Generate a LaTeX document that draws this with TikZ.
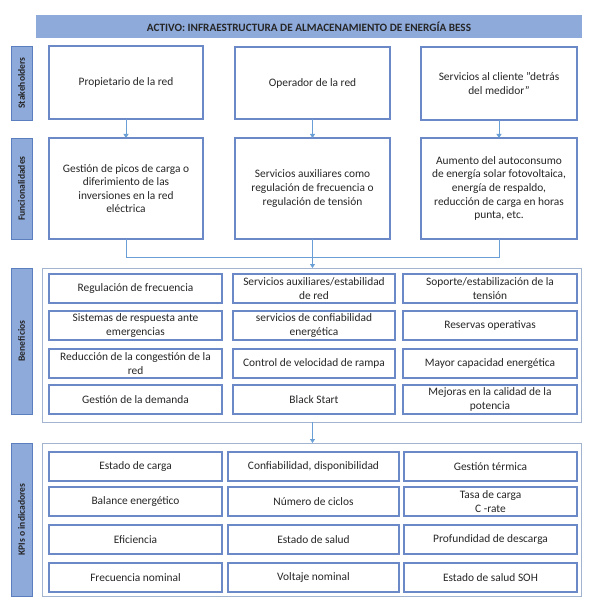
\documentclass[tikz,border=0pt]{standalone}
\usepackage{fontspec}
\setmainfont{Carlito}
\usetikzlibrary{arrows.meta}
\definecolor{barfill}{HTML}{8EAADB}
\definecolor{labdraw}{HTML}{5B7EBE}
\definecolor{boxdraw}{HTML}{6A89C6}
\definecolor{outerdraw}{HTML}{A3B4D0}
\definecolor{conn}{HTML}{6A9FD6}
\definecolor{txt}{HTML}{262626}
\newcommand\mybox[7]{%
  \pgfmathsetmacro\bcx{(#3+#5)/2}%
  \pgfmathsetmacro\bcy{(#4+#6)/2}%
  \pgfmathsetmacro\bw{#5-#3}%
  \pgfmathsetmacro\bh{#6-#4}%
  \node[#1,minimum width=\bw pt,minimum height=\bh pt] (#2) at (\bcx,\bcy) {#7};}
\begin{document}
\begin{tikzpicture}[x=1pt,y=-1pt,
  every node/.style={inner sep=0pt,outer sep=0pt,text=txt,align=center,font=\fontsize{11.4}{13.6}\selectfont},
  titlebar/.style={rectangle,fill=barfill,font=\bfseries\fontsize{11.2}{13}\selectfont},
  sidelab/.style={rectangle,fill=barfill,draw=labdraw,line width=0.8pt},
  sidetext/.style={rotate=90,font=\bfseries\fontsize{9.6}{11}\selectfont},
  mainbox/.style={rectangle,fill=white,draw=boxdraw,line width=1.1pt},
  outerbox/.style={rectangle,fill=white,draw=outerdraw,line width=1pt},
  cellbox/.style={rectangle,fill=white,draw=boxdraw,line width=1.1pt},
  link/.style={draw=conn,line width=0.8pt},
  arrowlink/.style={link,-{Triangle[length=4pt,width=5pt]}}
]
\useasboundingbox (0,0) rectangle (589,601);
\fill[white] (0,0) rectangle (589,601);

% title
\mybox{titlebar}{title}{36}{15}{582}{38}{ACTIVO: INFRAESTRUCTURA DE ALMACENAMIENTO DE ENERGÍA BESS}

% side labels
\mybox{sidelab}{lab1}{11}{46}{32}{120}{}
\mybox{sidelab}{lab2}{11}{138}{32}{239}{}
\mybox{sidelab}{lab3}{11}{268}{32}{414}{}
\mybox{sidelab}{lab4}{11}{443}{32}{596}{}
\node[sidetext] (lab1t) at (lab1.center) {Stakeholders};
\node[sidetext] (lab2t) at (lab2.center) {Funcionalidades};
\node[sidetext] (lab3t) at (lab3.center) {Beneficios};
\node[sidetext] (lab4t) at (lab4.center) {KPIs o indicadores};

% stakeholders
\mybox{mainbox}{s1}{49}{46}{203}{119}{Propietario de la red}
\mybox{mainbox}{s2}{235}{47}{390}{119}{Operador de la red}
\mybox{mainbox}{s3}{421}{47}{577}{120}{Servicios al cliente "detrás\\del medidor"}

% functionalities
\mybox{mainbox}{f1}{49}{138}{203}{239}{Gestión de picos de carga o\\diferimiento de las\\inversiones en la red\\eléctrica}
\mybox{mainbox}{f2}{235}{138}{390}{239}{Servicios auxiliares como\\regulación de frecuencia o\\regulación de tensión}
\mybox{mainbox}{f3}{421}{138}{577}{239}{Aumento del autoconsumo\\de energía solar fotovoltaica,\\energía de respaldo,\\reducción de carga en horas\\punta, etc.}

% benefits
\mybox{outerbox}{ben}{42}{268}{581}{422}{}
\mybox{cellbox}{b11}{49}{274}{222}{303}{Regulación de frecuencia}
\mybox{cellbox}{b12}{233}{274}{395}{303}{Servicios auxiliares/estabilidad\\de red}
\mybox{cellbox}{b13}{403}{274}{577}{303}{Soporte/estabilización de la\\tensión}
\mybox{cellbox}{b21}{49}{311}{222}{340}{Sistemas de respuesta ante\\emergencias}
\mybox{cellbox}{b22}{233}{311}{395}{340}{servicios de confiabilidad\\energética}
\mybox{cellbox}{b23}{403}{311}{577}{340}{Reservas operativas}
\mybox{cellbox}{b31}{49}{349}{222}{378}{Reducción de la congestión de la\\red}
\mybox{cellbox}{b32}{233}{349}{395}{378}{Control de velocidad de rampa}
\mybox{cellbox}{b33}{403}{349}{577}{378}{Mayor capacidad energética}
\mybox{cellbox}{b41}{49}{385}{222}{414}{Gestión de la demanda}
\mybox{cellbox}{b42}{233}{385}{395}{414}{Black Start}
\mybox{cellbox}{b43}{403}{385}{577}{414}{Mejoras en la calidad de la\\potencia}

% KPIs
\mybox{outerbox}{kpi}{42}{443}{581}{596}{}
\mybox{cellbox}{k11}{49}{452}{222}{481}{Estado de carga}
\mybox{cellbox}{k12}{228}{452}{399}{481}{Confiabilidad, disponibilidad}
\mybox{cellbox}{k13}{404}{452}{577}{481}{Gestión térmica}
\mybox{cellbox}{k21}{49}{487}{222}{516}{Balance energético}
\mybox{cellbox}{k22}{228}{487}{399}{516}{Número de ciclos}
\mybox{cellbox}{k23}{404}{487}{577}{516}{Tasa de carga\\C -rate}
\mybox{cellbox}{k31}{49}{525}{222}{554}{Eficiencia}
\mybox{cellbox}{k32}{228}{525}{399}{554}{Estado de salud}
\mybox{cellbox}{k33}{404}{525}{577}{554}{Profundidad de descarga}
\mybox{cellbox}{k41}{49}{563}{222}{592}{Frecuencia nominal}
\mybox{cellbox}{k42}{228}{563}{399}{592}{Voltaje nominal}
\mybox{cellbox}{k43}{404}{563}{577}{592}{Estado de salud SOH}

% connectors
\draw[arrowlink] (s1.south) -- (f1.north);
\draw[arrowlink] (s2.south) -- (f2.north);
\draw[arrowlink] (s3.south) -- (f3.north);
\coordinate (merge) at ([yshift=-18pt]f2.south);
\draw[link] (f1.south) |- (merge);
\draw[link] (f3.south) |- (merge);
\draw[arrowlink] (f2.south) -- (f2.south |- ben.north);
\draw[arrowlink] (ben.south -| f2.south) -- (f2.south |- kpi.north);
\end{tikzpicture}
\end{document}
